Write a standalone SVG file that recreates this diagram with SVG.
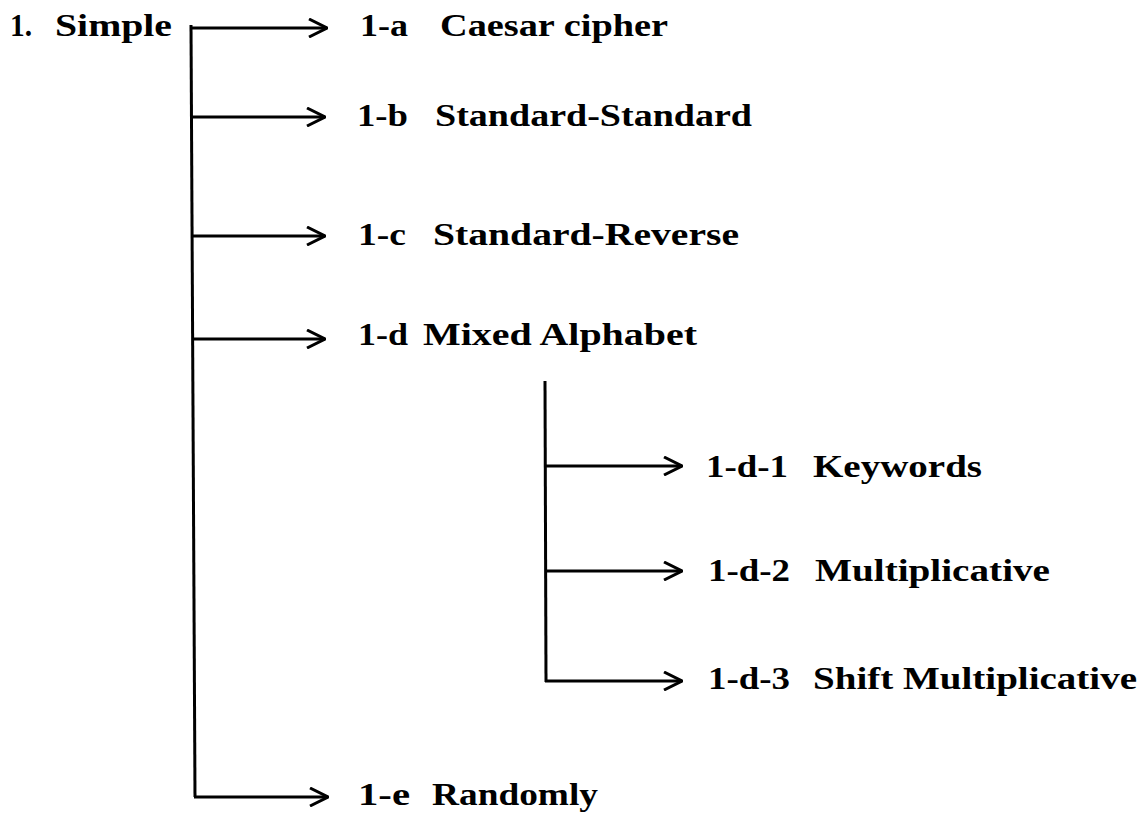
<svg xmlns="http://www.w3.org/2000/svg" width="1144" height="816" viewBox="0 0 1144 816">
<style>
  text { font-family: "Liberation Serif", "DejaVu Serif", serif; font-weight: bold; font-size: 32px; fill: #000; }
  .ln { stroke: #000; stroke-width: 3; fill: none; }
  .ar { stroke: #000; stroke-width: 3; fill: none; marker-end: url(#chev); }
</style>
<defs>
  <marker id="chev" viewBox="0 0 20 20" refX="19" refY="10" markerWidth="20" markerHeight="20" markerUnits="userSpaceOnUse" orient="auto">
    <path d="M1,1 L19,10 L1,19" fill="none" stroke="#000" stroke-width="3"/>
  </marker>
</defs>
<rect width="1144" height="816" fill="#fff"/>
<g id="connectors">
  <line class="ln" x1="191" y1="25" x2="195" y2="797"/>
  <line class="ar" x1="191" y1="28" x2="327" y2="28"/>
  <line class="ar" x1="192" y1="117" x2="325" y2="117"/>
  <line class="ar" x1="192" y1="236" x2="325" y2="236"/>
  <line class="ar" x1="192" y1="339" x2="325" y2="339"/>
  <line class="ar" x1="194" y1="797" x2="328" y2="797"/>
  <line class="ln" x1="545" y1="381" x2="546" y2="682"/>
  <line class="ar" x1="545" y1="466" x2="682" y2="466"/>
  <line class="ar" x1="545" y1="571" x2="682" y2="571"/>
  <line class="ar" x1="545" y1="681" x2="682" y2="681"/>
</g>
<g id="node-simple">
  <text x="10" y="36" textLength="22" lengthAdjust="spacingAndGlyphs">1.</text>
  <text x="55" y="36" textLength="117" lengthAdjust="spacingAndGlyphs">Simple</text>
</g>
<g id="node-1a">
  <text x="360" y="36" textLength="48" lengthAdjust="spacingAndGlyphs">1-a</text>
  <text x="440" y="36" textLength="228" lengthAdjust="spacingAndGlyphs">Caesar cipher</text>
</g>
<g id="node-1b">
  <text x="357" y="126" textLength="51" lengthAdjust="spacingAndGlyphs">1-b</text>
  <text x="435" y="126" textLength="317" lengthAdjust="spacingAndGlyphs">Standard-Standard</text>
</g>
<g id="node-1c">
  <text x="358" y="245" textLength="48" lengthAdjust="spacingAndGlyphs">1-c</text>
  <text x="433" y="245" textLength="306" lengthAdjust="spacingAndGlyphs">Standard-Reverse</text>
</g>
<g id="node-1d">
  <text x="358" y="345" textLength="50" lengthAdjust="spacingAndGlyphs">1-d</text>
  <text x="423" y="345" textLength="274" lengthAdjust="spacingAndGlyphs">Mixed Alphabet</text>
</g>
<g id="node-1d1">
  <text x="706" y="477" textLength="82" lengthAdjust="spacingAndGlyphs">1-d-1</text>
  <text x="813" y="477" textLength="169" lengthAdjust="spacingAndGlyphs">Keywords</text>
</g>
<g id="node-1d2">
  <text x="708" y="581" textLength="82" lengthAdjust="spacingAndGlyphs">1-d-2</text>
  <text x="815" y="581" textLength="235" lengthAdjust="spacingAndGlyphs">Multiplicative</text>
</g>
<g id="node-1d3">
  <text x="708" y="689" textLength="82" lengthAdjust="spacingAndGlyphs">1-d-3</text>
  <text x="813" y="689" textLength="324" lengthAdjust="spacingAndGlyphs">Shift Multiplicative</text>
</g>
<g id="node-1e">
  <text x="358" y="805" textLength="52" lengthAdjust="spacingAndGlyphs">1-e</text>
  <text x="432" y="805" textLength="166" lengthAdjust="spacingAndGlyphs">Randomly</text>
</g>
</svg>
